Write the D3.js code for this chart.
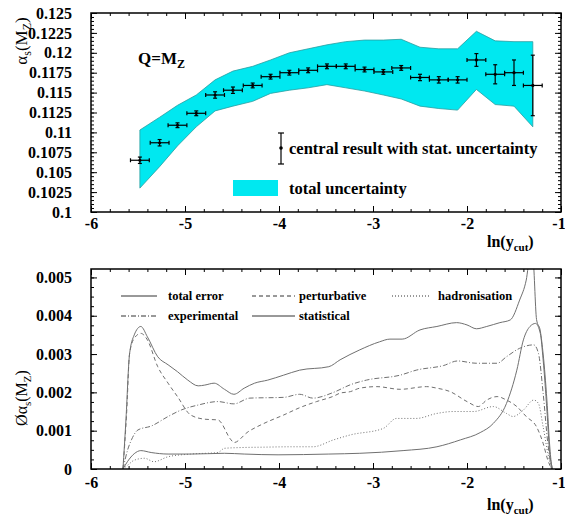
<!DOCTYPE html>
<html>
<head>
<meta charset="utf-8">
<script src="https://cdn.jsdelivr.net/npm/d3@7"></script>
<style>
  body { margin: 0; background: #fff; }
  svg { display: block; font-family: "Liberation Serif", "Times New Roman", serif; }
</style>
</head>
<body>
<svg id="chart" width="565" height="520"></svg>
<script>
// ---------- upper panel: alpha_s(M_Z) versus ln(y_cut) ----------
const binCentres = [-5.48, -5.27, -5.08, -4.88, -4.68, -4.49, -4.28, -4.09, -3.89, -3.69, -3.49,
                    -3.29, -3.09, -2.89, -2.70, -2.50, -2.30, -2.10, -1.90, -1.70, -1.50, -1.30];
const binHalfWidth = 0.1;
const alphaS = [0.1065, 0.1087, 0.1109, 0.1124, 0.1147, 0.1153, 0.1159, 0.1170, 0.1175, 0.1178, 0.1183,
                0.1183, 0.1179, 0.1176, 0.1181, 0.1169, 0.1166, 0.1166, 0.1191, 0.1173, 0.1175, 0.1159];
const statErr = [0.0004, 0.0004, 0.0003, 0.0003, 0.0004, 0.0004, 0.0003, 0.0003, 0.0003, 0.0003, 0.0003,
                 0.0003, 0.0003, 0.0003, 0.0003, 0.0004, 0.0004, 0.0004, 0.0008, 0.0012, 0.0016, 0.0038];
const totalLow  = [0.1030, 0.1057, 0.1083, 0.1107, 0.1127, 0.1133, 0.1139, 0.1149, 0.1153, 0.1156, 0.1160,
                   0.1156, 0.1152, 0.1147, 0.1142, 0.1133, 0.1130, 0.1128, 0.1154, 0.1135, 0.1133, 0.1107];
const totalHigh = [0.1103, 0.1119, 0.1134, 0.1147, 0.1166, 0.1177, 0.1183, 0.1191, 0.1200, 0.1205, 0.1210,
                   0.1214, 0.1216, 0.1216, 0.1217, 0.1207, 0.1205, 0.1205, 0.1227, 0.1215, 0.1214, 0.1214];
const topYTicks = [0.1, 0.1025, 0.105, 0.1075, 0.11, 0.1125, 0.115, 0.1175, 0.12, 0.1225, 0.125];
const topYLabels = ["0.1", "0.1025", "0.105", "0.1075", "0.11", "0.1125", "0.115", "0.1175", "0.12", "0.1225", "0.125"];

// ---------- lower panel: error contributions ----------
const totalX = [-5.66, -5.63, -5.59, -5.54, -5.47, -5.40, -5.29, -5.18, -5.08, -4.97, -4.86, -4.79, -4.69, -4.58,
                -4.48, -4.37, -4.26, -4.12, -3.95, -3.78, -3.47, -3.35, -3.14, -2.93, -2.82, -2.69, -2.50, -2.32,
                -2.11, -2.00, -1.90, -1.79, -1.65, -1.54, -1.44, -1.37, -1.33, -1.30, -1.26, -1.22, -1.19, -1.15,
                -1.12, -1.10, -1.09];
const totalV = [0, 0.0012, 0.0030, 0.0035, 0.00372, 0.00345, 0.00293, 0.00272, 0.00254, 0.00232, 0.00217, 0.00219,
                0.00224, 0.00208, 0.00195, 0.00211, 0.00224, 0.00232, 0.00245, 0.00258, 0.00267, 0.00285, 0.00311,
                0.00332, 0.00339, 0.00339, 0.00363, 0.00372, 0.00382, 0.00376, 0.00366, 0.00372, 0.00382, 0.00389,
                0.00441, 0.00493, 0.0055, 0.0055, 0.0039, 0.0036, 0.0030, 0.0018, 0.0006, 0.0001, 0];

const pertX = [-5.66, -5.62, -5.59, -5.54, -5.47, -5.40, -5.29, -5.18, -5.08, -4.94, -4.79, -4.65, -4.51, -4.48,
               -4.33, -4.16, -3.95, -3.78, -3.60, -3.42, -3.35, -3.24, -3.14, -2.96, -2.71, -2.43, -2.32, -2.18,
               -2.00, -1.88, -1.79, -1.68, -1.58, -1.47, -1.37, -1.26, -1.19, -1.14, -1.10];
const pertV = [0, 0.0015, 0.0030, 0.00341, 0.00354, 0.00337, 0.00267, 0.00224, 0.00189, 0.00141, 0.0013, 0.00128,
               0.00076, 0.00069, 0.00097, 0.00119, 0.00141, 0.0016, 0.00176, 0.0019, 0.00198, 0.00202, 0.00211,
               0.00215, 0.00208, 0.00215, 0.00211, 0.00202, 0.00176, 0.00163, 0.0018, 0.00189, 0.0018, 0.00163,
               0.00137, 0.0011, 0.00067, 0.00023, 0];

const hadrX = [-5.66, -5.60, -5.54, -5.43, -5.33, -5.18, -4.94, -4.65, -4.58, -4.40, -4.16, -3.87, -3.64, -3.42,
               -3.24, -2.89, -2.75, -2.54, -2.32, -2.15, -1.93, -1.72, -1.58, -1.51, -1.40, -1.29, -1.24, -1.19,
               -1.14, -1.10];
const hadrV = [0, 0.00012, 0.00023, 0.00028, 0.00019, 0.00032, 0.00039, 0.00043, 0.00054, 0.00056, 0.00057,
               0.00058, 0.00058, 0.00076, 0.00089, 0.00106, 0.00132, 0.00132, 0.00145, 0.0015, 0.0015, 0.00163,
               0.00145, 0.00137, 0.00154, 0.0018, 0.00171, 0.0011, 0.00041, 0];

const expX = [-5.66, -5.61, -5.57, -5.50, -5.36, -5.18, -5.04, -4.86, -4.65, -4.48, -4.31, -3.95, -3.78, -3.64,
              -3.42, -3.24, -3.07, -2.71, -2.54, -2.25, -2.10, -1.90, -1.68, -1.58, -1.44, -1.29, -1.24, -1.19,
              -1.14, -1.10];
const expV = [0, 0.0005, 0.00076, 0.00102, 0.00112, 0.00137, 0.00154, 0.00167, 0.00176, 0.0017, 0.00185, 0.00187,
              0.00195, 0.00185, 0.0020, 0.0022, 0.00232, 0.00245, 0.00258, 0.0027, 0.00282, 0.00276, 0.00276,
              0.00293, 0.00315, 0.00324, 0.00302, 0.00198, 0.00067, 0];

const statX = [-5.66, -5.61, -5.54, -5.47, -5.36, -5.18, -4.94, -4.58, -4.37, -4.01, -3.47, -3.14, -2.68, -2.32,
               -2.07, -1.86, -1.72, -1.58, -1.47, -1.40, -1.33, -1.27, -1.22, -1.19, -1.15, -1.12, -1.10, -1.09];
const statV = [0, 0.0002, 0.0004, 0.00048, 0.00043, 0.00039, 0.00039, 0.00041, 0.00039, 0.00037, 0.00039, 0.00041,
               0.00048, 0.00058, 0.00076, 0.00095, 0.00119, 0.00171, 0.00258, 0.00337, 0.00372, 0.0038, 0.00354,
               0.00285, 0.00154, 0.00041, 0.0001, 0];

const botYTicks = [0, 0.001, 0.002, 0.003, 0.004, 0.005];
const botYLabels = ["0", "0.001", "0.002", "0.003", "0.004", "0.005"];

const xTicks = [-6, -5, -4, -3, -2, -1];
const xTickLabels = ["-6", "-5", "-4", "-3", "-2", "-1"];

// ---------- layout ----------
const svg = d3.select("#chart");
const X0 = 91, X1 = 561;
const x = d3.scaleLinear().domain([-6, -1]).range([X0, X1]);
const yTop = d3.scaleLinear().domain([0.1, 0.125]).range([212, 13]);
const yBot = d3.scaleLinear().domain([0, 0.00522]).range([469, 269]);

const xMinor = d3.range(-6, -0.999, 0.2);

function styleAxis(g) {
  g.select(".domain").remove();
  g.selectAll("line").attr("stroke", "#000").attr("stroke-width", 1);
  g.selectAll("text")
    .attr("font-family", "'Liberation Serif', 'Times New Roman', serif")
    .attr("font-size", 16).attr("font-weight", "bold").attr("fill", "#000");
}

function frame(y, yTicks, yLabels, yMinorStep, xPad) {
  const [yb, yt] = y.range();
  const [d0, d1] = y.domain();
  const yMinor = d3.range(d0, d1 + 1e-9, yMinorStep);
  const g = svg.append("g");
  // bottom edge
  g.append("g").attr("transform", `translate(0,${yb})`)
    .call(d3.axisBottom(x).tickValues(xMinor).tickSize(-3).tickFormat("")).call(styleAxis);
  const xb = g.append("g").attr("transform", `translate(0,${yb})`)
    .call(d3.axisBottom(x).tickValues(xTicks).tickSize(-6).tickPadding(xPad)
      .tickFormat((d, i) => xTickLabels[i])).call(styleAxis);
  // keep the last label inside the page edge
  xb.selectAll(".tick text").filter(d => d === -1).attr("dx", -2.5);
  // top edge
  g.append("g").attr("transform", `translate(0,${yt})`)
    .call(d3.axisTop(x).tickValues(xMinor).tickSize(-3).tickFormat("")).call(styleAxis);
  g.append("g").attr("transform", `translate(0,${yt})`)
    .call(d3.axisTop(x).tickValues(xTicks).tickSize(-6).tickFormat("")).call(styleAxis);
  // left edge
  g.append("g").attr("transform", `translate(${X0},0)`)
    .call(d3.axisLeft(y).tickValues(yMinor).tickSize(-3).tickFormat("")).call(styleAxis);
  g.append("g").attr("transform", `translate(${X0},0)`)
    .call(d3.axisLeft(y).tickValues(yTicks).tickSize(-6).tickPadding(19)
      .tickFormat((d, i) => yLabels[i])).call(styleAxis);
  // right edge
  g.append("g").attr("transform", `translate(${X1},0)`)
    .call(d3.axisRight(y).tickValues(yMinor).tickSize(-3).tickFormat("")).call(styleAxis);
  g.append("g").attr("transform", `translate(${X1},0)`)
    .call(d3.axisRight(y).tickValues(yTicks).tickSize(-6).tickFormat("")).call(styleAxis);
  g.append("rect").attr("x", X0).attr("y", yt).attr("width", X1 - X0).attr("height", yb - yt)
    .attr("fill", "none").attr("stroke", "#000").attr("stroke-width", 1.5);
}

// ---------- upper panel ----------
const bins = binCentres.map((c, i) => ({ c, v: alphaS[i], e: statErr[i], lo: totalLow[i], hi: totalHigh[i] }));

svg.append("path")
  .datum(bins)
  .attr("d", d3.area().x(d => x(d.c)).y0(d => yTop(d.lo)).y1(d => yTop(d.hi)))
  .attr("fill", "#00e8f0").attr("stroke", "#2a9da0").attr("stroke-width", 0.8);

const pts = svg.append("g").attr("stroke", "#000").attr("stroke-width", 1.2);
bins.forEach(d => {
  const cx = x(d.c), cy = yTop(d.v);
  const xl = x(d.c - binHalfWidth), xr = x(d.c + binHalfWidth);
  const yl = yTop(d.v - d.e), yh = yTop(d.v + d.e);
  pts.append("line").attr("x1", xl).attr("x2", xr).attr("y1", cy).attr("y2", cy);
  pts.append("line").attr("x1", xl).attr("x2", xl).attr("y1", cy - 2).attr("y2", cy + 2);
  pts.append("line").attr("x1", xr).attr("x2", xr).attr("y1", cy - 2).attr("y2", cy + 2);
  pts.append("line").attr("x1", cx).attr("x2", cx).attr("y1", yl).attr("y2", yh);
  pts.append("line").attr("x1", cx - 2).attr("x2", cx + 2).attr("y1", yl).attr("y2", yl);
  pts.append("line").attr("x1", cx - 2).attr("x2", cx + 2).attr("y1", yh).attr("y2", yh);
  pts.append("circle").attr("cx", cx).attr("cy", cy).attr("r", 1.6).attr("fill", "#000").attr("stroke", "none");
});

frame(yTop, topYTicks, topYLabels, 0.0005, 6);

// Q = M_Z tag
const qTag = svg.append("text").attr("x", 138).attr("y", 64)
  .attr("font-size", 17).attr("font-weight", "bold");
qTag.append("tspan").text("Q=M");
qTag.append("tspan").attr("font-size", 12).attr("dy", 4).text("Z");

// upper legend
const lg = svg.append("g");
lg.append("line").attr("x1", 281).attr("x2", 281).attr("y1", 133).attr("y2", 164).attr("stroke", "#000").attr("stroke-width", 1.2);
lg.append("line").attr("x1", 278).attr("x2", 284).attr("y1", 133).attr("y2", 133).attr("stroke", "#000").attr("stroke-width", 1.2);
lg.append("line").attr("x1", 278).attr("x2", 284).attr("y1", 164).attr("y2", 164).attr("stroke", "#000").attr("stroke-width", 1.2);
lg.append("circle").attr("cx", 281).attr("cy", 148).attr("r", 1.8).attr("fill", "#000");
lg.append("text").attr("x", 289).attr("y", 154).attr("font-size", 16.5).attr("font-weight", "bold")
  .text("central result with stat. uncertainty");
lg.append("rect").attr("x", 233).attr("y", 180).attr("width", 45).attr("height", 16).attr("fill", "#00e8f0");
lg.append("text").attr("x", 289).attr("y", 194).attr("font-size", 16.5).attr("font-weight", "bold")
  .text("total uncertainty");

// axis titles, upper panel
const yt1 = svg.append("text").attr("transform", "translate(27,41) rotate(-90)")
  .attr("text-anchor", "middle").attr("font-size", 17);
yt1.append("tspan").text("α");
yt1.append("tspan").attr("font-size", 12).attr("dy", 4).text("s");
yt1.append("tspan").attr("dy", -4).text("(M");
yt1.append("tspan").attr("font-size", 12).attr("dy", 4).text("Z");
yt1.append("tspan").attr("dy", -4).text(")");

function xTitle(yBase) {
  const t = svg.append("text").attr("x", 487).attr("y", yBase).attr("font-size", 16).attr("font-weight", "bold");
  t.append("tspan").text("ln(y");
  t.append("tspan").attr("font-size", 11).attr("dy", 4).text("cut");
  t.append("tspan").attr("dy", -4).text(")");
}
xTitle(247);

// ---------- lower panel ----------
svg.append("defs").append("clipPath").attr("id", "botClip")
  .append("rect").attr("x", X0).attr("y", 269).attr("width", X1 - X0).attr("height", 200);

const curve = d3.line().x(d => x(d[0])).y(d => yBot(d[1])).curve(d3.curveMonotoneX);
const series = [
  { xs: totalX, vs: totalV, dash: null },
  { xs: pertX, vs: pertV, dash: "4,3" },
  { xs: hadrX, vs: hadrV, dash: "1,2" },
  { xs: expX, vs: expV, dash: "5,2,1,2" },
  { xs: statX, vs: statV, dash: null }
];
const cg = svg.append("g").attr("clip-path", "url(#botClip)");
series.forEach(s => {
  cg.append("path")
    .datum(s.xs.map((xv, i) => [xv, s.vs[i]]))
    .attr("d", curve)
    .attr("fill", "none").attr("stroke", "#707070").attr("stroke-width", 1)
    .attr("stroke-dasharray", s.dash);
});

frame(yBot, botYTicks, botYLabels, 0.00025, 8);

// lower legend
const legendItems = [
  { label: "total error", dash: null, x1: 121, x2: 157, tx: 168, y: 296 },
  { label: "perturbative", dash: "4,3", x1: 252, x2: 295, tx: 299, y: 296 },
  { label: "hadronisation", dash: "1,2", x1: 392, x2: 430, tx: 438, y: 296 },
  { label: "experimental", dash: "5,2,1,2", x1: 121, x2: 157, tx: 168, y: 316 },
  { label: "statistical", dash: null, x1: 252, x2: 295, tx: 299, y: 316 }
];
const lg2 = svg.append("g");
legendItems.forEach(it => {
  lg2.append("line").attr("x1", it.x1).attr("x2", it.x2).attr("y1", it.y).attr("y2", it.y)
    .attr("stroke", "#333").attr("stroke-width", 1).attr("stroke-dasharray", it.dash);
  lg2.append("text").attr("x", it.tx).attr("y", it.y + 4).attr("font-size", 12.5).attr("font-weight", "bold")
    .text(it.label);
});

// axis titles, lower panel
const yt2 = svg.append("text").attr("transform", "translate(27,398) rotate(-90)")
  .attr("text-anchor", "middle").attr("font-size", 16);
yt2.append("tspan").text("Øα");
yt2.append("tspan").attr("font-size", 11).attr("dy", 4).text("s");
yt2.append("tspan").attr("dy", -4).text("(M");
yt2.append("tspan").attr("font-size", 11).attr("dy", 4).text("Z");
yt2.append("tspan").attr("dy", -4).text(")");

xTitle(510);
</script>
</body>
</html>
